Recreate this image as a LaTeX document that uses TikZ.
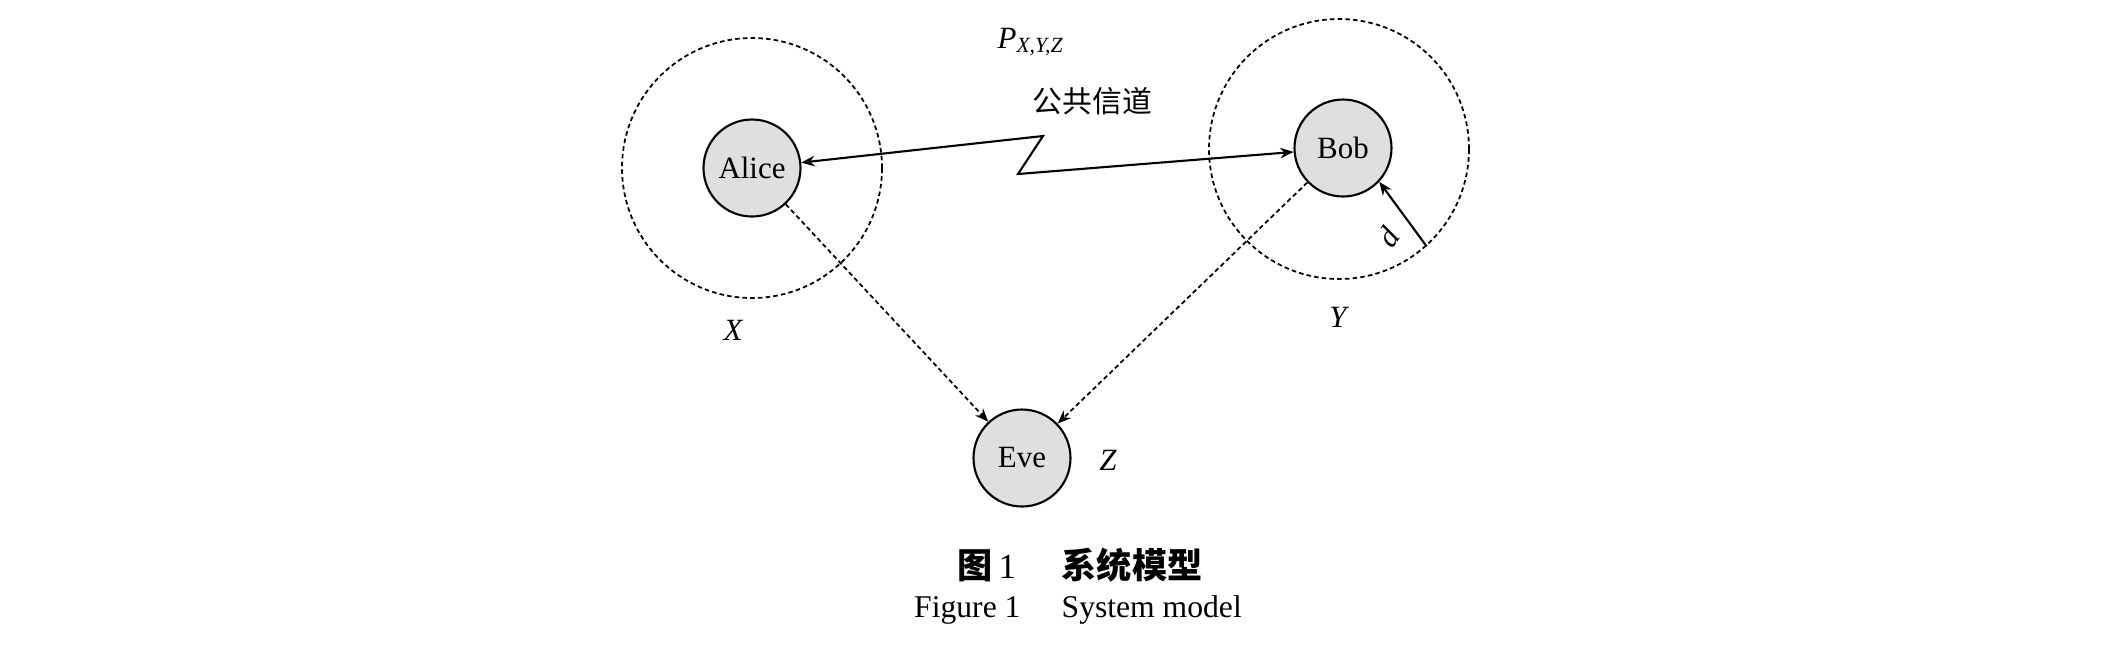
\documentclass[tikz,border=0pt]{standalone}
\usepackage{fontspec}
\setmainfont{Liberation Serif}
\newfontfamily\cjk{Noto Sans CJK SC}
\usetikzlibrary{arrows.meta}

\begin{document}
\begin{tikzpicture}[
        >={Stealth[length=3.8pt,width=3pt]},
        party/.style={
            circle,
            draw,
            line width=0.6pt,
            fill=gray!25,
            minimum size=0.97cm,
            inner sep=0pt,
            font=\fontsize{8.8}{10}\selectfont
        },
        zone/.style={
            circle,
            draw,
            line width=0.5pt,
            dash pattern=on 1.3pt off 0.9pt,
            minimum size=2.6cm,
            inner sep=0pt
        },
        tag/.style={
            font=\fontsize{8.8}{10}\selectfont\itshape
        },
        link/.style={
            line width=0.6pt
        },
        leak/.style={
            line width=0.5pt,
            dash pattern=on 1.3pt off 0.9pt
        }
    ]
        % Frame
        \useasboundingbox (0,0) rectangle (21.06,-6.60);

        % Parties
        \node[party] (alice) at (7.52,-1.68) {Alice};
        \node[party] (bob) at (13.43,-1.48) {Bob};
        \node[party] (eve) at (10.22,-4.58) {Eve};

        % Ranges round Alice and Bob
        \node[zone] (alicezone) at (alice) {};
        \node[zone] (bobzone) at (13.39,-1.49) {};

        % Variables
        \node[tag] (xlabel) at (7.33,-3.30) {X};
        \node[tag] (ylabel) at (13.38,-3.17) {Y};
        \node[tag] (zlabel) at (11.08,-4.60) {Z};

        % Public channel
        \node[tag] (plabel) at (10.31,-0.42) {P\textsubscript{X,Y,Z}};
        \node[font=\cjk\fontsize{8.5}{10}\selectfont] (chlabel) at (10.925,-1.015) {公共信道};
        \coordinate (bend1) at (10.43,-1.36);
        \coordinate (bend2) at (10.18,-1.74);
        \draw[link,<->] (alice) -- (bend1) -- (bend2) -- (bob);

        % Eavesdropping
        \draw[leak,->] (alice) -- (eve);
        \draw[leak,->] (bob) -- (eve);

        % Radius
        \draw[link,->] (bobzone.-48) -- (bob.-43);
        \node[tag,rotate=55] (dlabel) at (13.88,-2.37) {d};

        % Caption
        \node[font=\fontsize{10}{12}\selectfont] (captioncn) at (10.80,-5.65)
            {{\cjk\bfseries 图}\,1\hspace{1.3em}{\cjk\bfseries 系统模型}};
        \node[font=\fontsize{9}{11}\selectfont] (captionen) at (10.78,-6.10)
            {Figure 1\hspace{1.3em}System model};

    \end{tikzpicture}
\end{document}
